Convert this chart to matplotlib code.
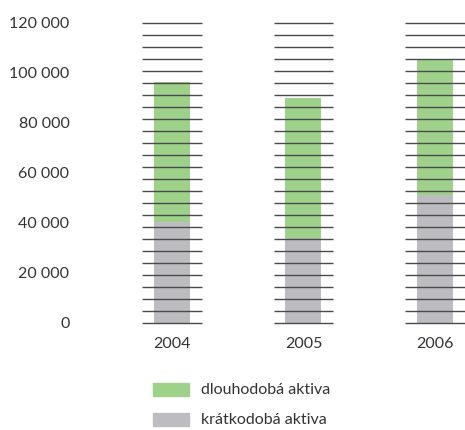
import matplotlib.pyplot as plt
from matplotlib.patches import Rectangle
import numpy as np

plt.rcParams['font.family'] = ['Lato', 'DejaVu Sans']

years = ['2004', '2005', '2006']
kratkodoba = [40400, 34000, 51000]      # short-term assets
dlouhodoba = [56000, 56000, 54600]      # long-term assets
series_names = ['dlouhodobá aktiva', 'krátkodobá aktiva']
y_ticks = [0, 20000, 40000, 60000, 80000, 100000, 120000]
rule_step = 4800

green = '#9ED28B'
grey = '#BDBDC1'
text_col = '#333333'

W, H = 465, 430
fig = plt.figure(figsize=(W / 100, H / 100), dpi=100)
ax = fig.add_axes([100 / W, 107.3 / H, 365 / W, 300 / H])

x = np.arange(len(years))
ax.bar(x, kratkodoba, width=36 / 132, color=grey, zorder=1)
ax.bar(x, dlouhodoba, bottom=kratkodoba, width=36 / 132, color=green, zorder=1)

# horizontal rules drawn only around each column
rules = np.arange(0, 120000 + 1, rule_step)
for xi in x:
    ax.hlines(rules, xi - 30 / 132, xi + 30 / 132, colors='#4a4a4a',
              linewidth=1.0, zorder=3, clip_on=False)

ax.set_xlim(-72 / 132, 2 + 30 / 132)
ax.set_ylim(0, 120000)
ax.set_xticks(x)
ax.set_xticklabels(years)
ax.set_yticks(y_ticks)
ax.set_yticklabels([f'{v:,}'.replace(',', ' ') for v in y_ticks])
ax.tick_params(length=0, labelsize=11.5, colors=text_col)
ax.tick_params(axis='y', pad=22)
ax.tick_params(axis='x', pad=10)
for s in ax.spines.values():
    s.set_visible(False)

# legend
for i, (name, col) in enumerate(zip(series_names, [green, grey])):
    ytop = 383 + i * 30
    fig.patches.append(Rectangle((153 / W, 1 - (ytop + 13) / H), 36 / W, 13 / H,
                                 transform=fig.transFigure, color=col))
    fig.text(201 / W, 1 - (ytop + 6.5) / H, name, fontsize=11.5, color=text_col,
             va='center', ha='left')

fig.savefig('out.png', dpi=100)
